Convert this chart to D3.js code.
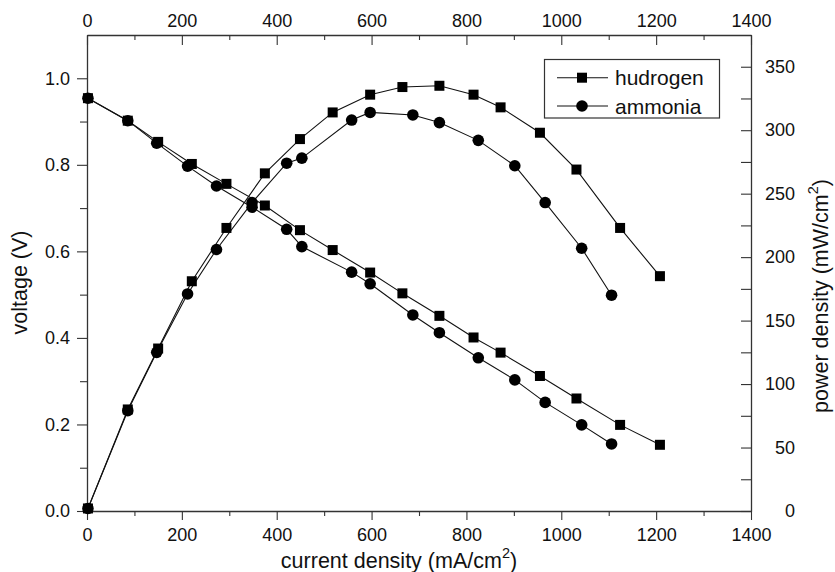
<!DOCTYPE html>
<html>
<head>
<meta charset="utf-8">
<script src="https://cdn.jsdelivr.net/npm/d3@7"></script>
<style>
  html, body { margin: 0; padding: 0; background: #fff; }
  text { font-family: "Liberation Sans", Arial, Helvetica, sans-serif; fill: #111; }
</style>
</head>
<body>
<script>
// ---------- data ----------
const seriesNames = ["hudrogen", "ammonia"];
const currentH = [2, 86, 150, 221, 294, 375, 449, 518, 597, 665, 743, 815, 872, 955, 1032, 1124, 1208];
const voltageH = [0.954, 0.902, 0.853, 0.802, 0.756, 0.706, 0.649, 0.603, 0.551, 0.503, 0.451, 0.401, 0.366, 0.312, 0.260, 0.199, 0.153];
const powerH   = [2, 80, 128, 181, 223, 266, 293, 314, 328, 334, 335, 328, 318, 298, 269, 223, 185];
const currentA = [2, 86, 147, 212, 273, 348, 421, 453, 558, 597, 687, 743, 825, 902, 966, 1043, 1106];
const voltageA = [0.954, 0.902, 0.850, 0.797, 0.751, 0.702, 0.651, 0.611, 0.552, 0.525, 0.453, 0.412, 0.354, 0.303, 0.251, 0.199, 0.155];
const powerA   = [2, 79, 125, 171, 206, 243, 274, 278, 308, 314, 312, 306, 292, 272, 243, 207, 170];

const xMajorTicks = [0, 200, 400, 600, 800, 1000, 1200, 1400];
const xMinorTicks = [100, 300, 500, 700, 900, 1100, 1300];
const vMajorTicks = [0, 0.2, 0.4, 0.6, 0.8, 1.0];
const vMinorTicks = [0.1, 0.3, 0.5, 0.7, 0.9];
const pMajorTicks = [0, 50, 100, 150, 200, 250, 300, 350];
const pMinorTicks = [25, 75, 125, 175, 225, 275, 325];

// ---------- layout ----------
const W = 835, H = 572;
const L = 87, R = 751, T = 35, B = 511;
const axisColor = "#333";

const svg = d3.select("body").append("svg").attr("width", W).attr("height", H);

const x = d3.scaleLinear().domain([0, 1400]).range([L, R]);
const yV = d3.scaleLinear().domain([0, 1.1]).range([B, T]);
const yP = d3.scaleLinear().domain([0, 375]).range([B, T]);

function styleAxis(g) {
  g.select(".domain").attr("stroke", axisColor).attr("stroke-width", 1.3);
  g.selectAll(".tick line").attr("stroke", axisColor).attr("stroke-width", 1.1);
  g.selectAll("text").style("font-size", "18px").attr("fill", "#111");
}

// bottom
const gB = svg.append("g").attr("transform", `translate(0,${B})`);
gB.call(d3.axisBottom(x).tickValues(xMajorTicks).tickSizeInner(9).tickSizeOuter(0).tickFormat(d3.format("d")));
gB.selectAll("text").attr("y", 17);
styleAxis(gB);
const gBm = svg.append("g").attr("transform", `translate(0,${B})`);
gBm.call(d3.axisBottom(x).tickValues(xMinorTicks).tickSizeInner(5).tickSizeOuter(0).tickFormat(""));
gBm.select(".domain").remove();
styleAxis(gBm);

// top
const gT = svg.append("g").attr("transform", `translate(0,${T})`);
gT.call(d3.axisTop(x).tickValues(xMajorTicks).tickSizeInner(-10).tickSizeOuter(0).tickFormat(d3.format("d")));
gT.selectAll("text").attr("y", -8);
styleAxis(gT);
const gTm = svg.append("g").attr("transform", `translate(0,${T})`);
gTm.call(d3.axisTop(x).tickValues(xMinorTicks).tickSizeInner(-5).tickSizeOuter(0).tickFormat(""));
gTm.select(".domain").remove();
styleAxis(gTm);

// left
const gL = svg.append("g").attr("transform", `translate(${L},0)`);
gL.call(d3.axisLeft(yV).tickValues(vMajorTicks).tickSizeInner(10).tickSizeOuter(0).tickFormat(d3.format(".1f")));
gL.selectAll("text").attr("x", -17);
styleAxis(gL);
const gLm = svg.append("g").attr("transform", `translate(${L},0)`);
gLm.call(d3.axisLeft(yV).tickValues(vMinorTicks).tickSizeInner(7).tickSizeOuter(0).tickFormat(""));
gLm.select(".domain").remove();
styleAxis(gLm);

// right
const gR = svg.append("g").attr("transform", `translate(${R},0)`);
gR.call(d3.axisRight(yP).tickValues(pMajorTicks).tickSizeInner(-10).tickSizeOuter(0).tickFormat(d3.format("d")));
gR.selectAll("text").attr("x", 44).attr("text-anchor", "end");
styleAxis(gR);
const gRm = svg.append("g").attr("transform", `translate(${R},0)`);
gRm.call(d3.axisRight(yP).tickValues(pMinorTicks).tickSizeInner(-10).tickSizeOuter(0).tickFormat(""));
gRm.select(".domain").remove();
styleAxis(gRm);

// ---------- series ----------
function makeSeries(cur, vals) { return cur.map((c, i) => ({ x: c, y: vals[i] })); }
const series = [
  { name: seriesNames[0], shape: "square", data: makeSeries(currentH, voltageH), y: yV },
  { name: seriesNames[0], shape: "square", data: makeSeries(currentH, powerH), y: yP },
  { name: seriesNames[1], shape: "circle", data: makeSeries(currentA, voltageA), y: yV },
  { name: seriesNames[1], shape: "circle", data: makeSeries(currentA, powerA), y: yP }
];

const plot = svg.append("g");
series.forEach(s => {
  const line = d3.line().x(d => x(d.x)).y(d => s.y(d.y));
  plot.append("path").datum(s.data).attr("d", line)
    .attr("fill", "none").attr("stroke", "#111").attr("stroke-width", 1.1);
});
const sqSize = 10, circR = 5.8;
series.forEach(s => {
  const g = plot.append("g");
  if (s.shape === "square") {
    g.selectAll("rect").data(s.data).join("rect")
      .attr("x", d => x(d.x) - sqSize / 2).attr("y", d => s.y(d.y) - sqSize / 2)
      .attr("width", sqSize).attr("height", sqSize).attr("fill", "#000");
  } else {
    g.selectAll("circle").data(s.data).join("circle")
      .attr("cx", d => x(d.x)).attr("cy", d => s.y(d.y)).attr("r", circR).attr("fill", "#000");
  }
});

// ---------- legend ----------
const lg = svg.append("g");
lg.append("rect").attr("x", 544.5).attr("y", 59.5).attr("width", 175).attr("height", 58.5)
  .attr("fill", "#fff").attr("stroke", axisColor).attr("stroke-width", 1.2);
const legendRows = [{ name: seriesNames[0], shape: "square", cy: 77.7 }, { name: seriesNames[1], shape: "circle", cy: 106 }];
legendRows.forEach(r => {
  lg.append("line").attr("x1", 557).attr("x2", 608).attr("y1", r.cy).attr("y2", r.cy)
    .attr("stroke", "#111").attr("stroke-width", 1.1);
  if (r.shape === "square") {
    lg.append("rect").attr("x", 582 - sqSize / 2).attr("y", r.cy - sqSize / 2)
      .attr("width", sqSize).attr("height", sqSize).attr("fill", "#000");
  } else {
    lg.append("circle").attr("cx", 582).attr("cy", r.cy).attr("r", circR).attr("fill", "#000");
  }
  lg.append("text").attr("x", 615).attr("y", r.cy + 7.5).style("font-size", "21px").text(r.name);
});

// ---------- axis titles ----------
const tB = svg.append("text").attr("x", 399).attr("y", 568).attr("text-anchor", "middle").style("font-size", "21.5px");
tB.append("tspan").text("current density (mA/cm");
tB.append("tspan").attr("dy", -10).style("font-size", "14.5px").text("2");
tB.append("tspan").attr("dy", 10).text(")");

svg.append("text").attr("transform", "translate(26.5,282.5) rotate(-90)")
  .attr("text-anchor", "middle").style("font-size", "21.5px").text("voltage (V)");

const tR = svg.append("text").attr("transform", "translate(828,296) rotate(-90)")
  .attr("text-anchor", "middle").style("font-size", "21.5px");
tR.append("tspan").text("power density (mW/cm");
tR.append("tspan").attr("dy", -10).style("font-size", "14.5px").text("2");
tR.append("tspan").attr("dy", 10).text(")");
</script>
</body>
</html>
